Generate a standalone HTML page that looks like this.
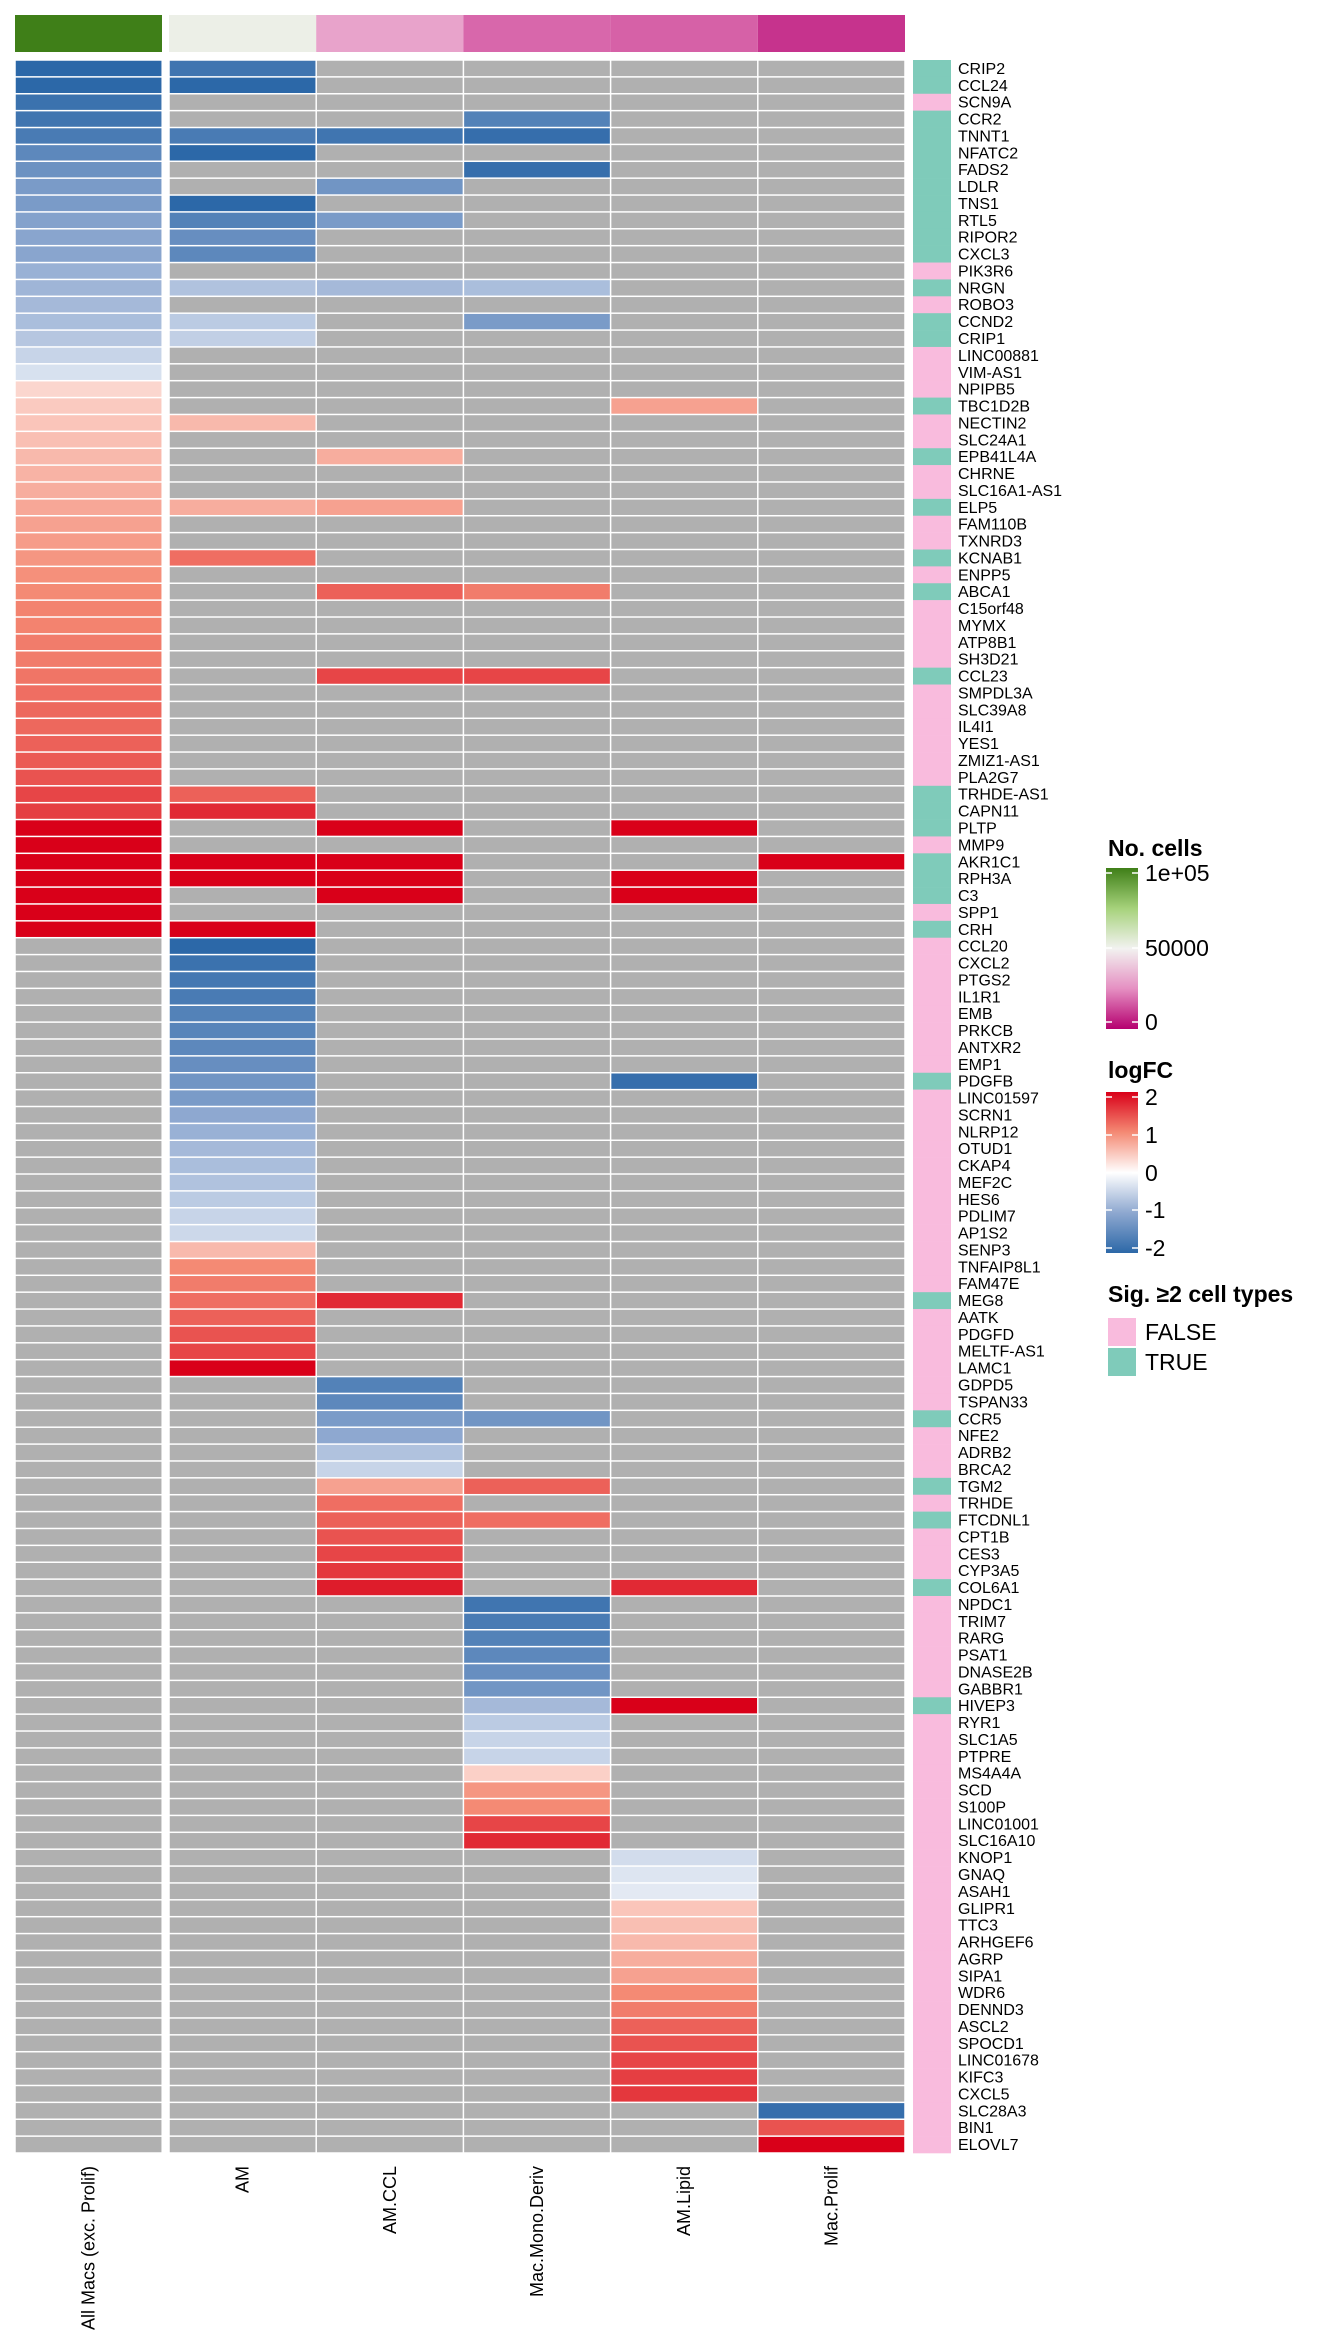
<!DOCTYPE html>
<html><head><meta charset="utf-8"><style>
body{margin:0;background:#fff;}
svg{display:block;font-family:"Liberation Sans",sans-serif;}
</style></head><body>
<svg id="chart" width="1344" height="2352" viewBox="0 0 1344 2352" xmlns="http://www.w3.org/2000/svg"></svg>
<script>
const genes=["CRIP2","CCL24","SCN9A","CCR2","TNNT1","NFATC2","FADS2","LDLR","TNS1","RTL5","RIPOR2","CXCL3","PIK3R6","NRGN","ROBO3","CCND2","CRIP1","LINC00881","VIM-AS1","NPIPB5","TBC1D2B","NECTIN2","SLC24A1","EPB41L4A","CHRNE","SLC16A1-AS1","ELP5","FAM110B","TXNRD3","KCNAB1","ENPP5","ABCA1","C15orf48","MYMX","ATP8B1","SH3D21","CCL23","SMPDL3A","SLC39A8","IL4I1","YES1","ZMIZ1-AS1","PLA2G7","TRHDE-AS1","CAPN11","PLTP","MMP9","AKR1C1","RPH3A","C3","SPP1","CRH","CCL20","CXCL2","PTGS2","IL1R1","EMB","PRKCB","ANTXR2","EMP1","PDGFB","LINC01597","SCRN1","NLRP12","OTUD1","CKAP4","MEF2C","HES6","PDLIM7","AP1S2","SENP3","TNFAIP8L1","FAM47E","MEG8","AATK","PDGFD","MELTF-AS1","LAMC1","GDPD5","TSPAN33","CCR5","NFE2","ADRB2","BRCA2","TGM2","TRHDE","FTCDNL1","CPT1B","CES3","CYP3A5","COL6A1","NPDC1","TRIM7","RARG","PSAT1","DNASE2B","GABBR1","HIVEP3","RYR1","SLC1A5","PTPRE","MS4A4A","SCD","S100P","LINC01001","SLC16A10","KNOP1","GNAQ","ASAH1","GLIPR1","TTC3","ARHGEF6","AGRP","SIPA1","WDR6","DENND3","ASCL2","SPOCD1","LINC01678","KIFC3","CXCL5","SLC28A3","BIN1","ELOVL7"];
const cellTypes=["All Macs (exc. Prolif)","AM","AM.CCL","Mac.Mono.Deriv","AM.Lipid","Mac.Prolif"];
const nCells=[100000,52000,30000,18000,17000,9000];
const allMacs={1:-2,2:-2,3:-1.85,4:-1.8,5:-1.7,6:-1.5,7:-1.35,8:-1.2,9:-1.2,10:-1.1,11:-1.05,12:-1.05,13:-0.9,14:-0.85,15:-0.8,16:-0.75,17:-0.65,18:-0.5,19:-0.35,20:0.35,21:0.45,22:0.5,23:0.55,24:0.6,25:0.65,26:0.7,27:0.75,28:0.8,29:0.85,30:0.9,31:0.95,32:1.0,33:1.05,34:1.05,35:1.1,36:1.1,37:1.15,38:1.2,39:1.25,40:1.25,41:1.3,42:1.35,43:1.4,44:1.5,45:1.55,46:2,47:2,48:2,49:2,50:2,51:2,52:2};
const am={1:-1.8,2:-2,5:-1.7,6:-2,9:-2,10:-1.6,11:-1.4,12:-1.5,14:-0.7,16:-0.6,17:-0.55,22:0.6,27:0.7,30:1.2,44:1.3,45:1.7,48:2,49:2,52:2,53:-2,54:-1.85,55:-1.75,56:-1.7,57:-1.6,58:-1.55,59:-1.5,60:-1.4,61:-1.3,62:-1.2,63:-1.0,64:-0.9,65:-0.8,66:-0.75,67:-0.7,68:-0.6,69:-0.5,70:-0.45,71:0.6,72:1.0,73:1.1,74:1.2,75:1.3,76:1.4,77:1.5,78:2};
const amCCL={5:-1.8,8:-1.3,10:-1.2,14:-0.8,24:0.7,27:0.8,32:1.3,37:1.5,46:2,48:2,49:2,50:2,74:1.7,79:-1.6,80:-1.5,81:-1.2,82:-1.0,83:-0.7,84:-0.5,85:0.8,86:1.2,87:1.3,88:1.4,89:1.5,90:1.6,91:1.8};
const monoDeriv={4:-1.6,5:-1.9,7:-1.9,14:-0.75,16:-1.2,32:1.1,37:1.5,81:-1.3,85:1.3,87:1.2,92:-1.8,93:-1.7,94:-1.6,95:-1.5,96:-1.4,97:-1.3,98:-0.8,99:-0.6,100:-0.5,101:-0.5,102:0.4,103:0.9,104:1.0,105:1.5,106:1.7};
const amLipid={21:0.8,46:2,49:2,50:2,61:-1.9,91:1.7,98:2,107:-0.4,108:-0.3,109:-0.25,110:0.5,111:0.55,112:0.6,113:0.7,114:0.8,115:1.0,116:1.1,117:1.3,118:1.4,119:1.5,120:1.55,121:1.6};
const macProlif={48:2,122:-1.9,123:1.4,124:2};
const sigTrue=[1,2,4,5,6,7,8,9,10,11,12,14,16,17,21,24,27,30,32,37,44,45,46,48,49,50,52,61,74,81,85,87,91,98];
const colData=[allMacs,am,amCCL,monoDeriv,amLipid,macProlif];

const svg=document.getElementById('chart');
const NS='http://www.w3.org/2000/svg';
function mk(t,a,txt){const e=document.createElementNS(NS,t);for(const k in a)e.setAttribute(k,a[k]);if(txt!==undefined)e.textContent=txt;svg.appendChild(e);return e;}
function hex(h){return [parseInt(h.slice(1,3),16),parseInt(h.slice(3,5),16),parseInt(h.slice(5,7),16)];}
function ramp(stops,v){
  if(v<=stops[0][0])return stops[0][1];
  for(let i=1;i<stops.length;i++){if(v<=stops[i][0]){const a=stops[i-1],b=stops[i];const t=(v-a[0])/(b[0]-a[0]);const c1=hex(a[1]),c2=hex(b[1]);return 'rgb('+c1.map((c,j)=>Math.round(c+(c2[j]-c)*t)).join(',')+')';}}
  return stops[stops.length-1][1];}
const fcStops=[[-2,'#2C68A8'],[-1,'#8EA8D0'],[0,'#FFFFFF'],[1,'#F48A74'],[2,'#D90019']];
const ncStops=[[0,'#B5006F'],[25000,'#E58FC2'],[50000,'#F2F2F0'],[75000,'#A6D27B'],[100000,'#3F7F18']];

const rowTop=60,rowH=2093/genes.length;
const colX=[15,169,316.2,463.4,610.6,757.8],colW=147.2;
function yScale(i){return rowTop+i*rowH;}

cellTypes.forEach((ct,j)=>{
  const r=mk('rect',{x:colX[j],y:15,width:j==0?147:colW,height:37,fill:ramp(ncStops,nCells[j])});
  
  
});
colData.forEach((col,j)=>{
  genes.forEach((g,i)=>{
    const v=col[i+1];
    const r=mk('rect',{x:colX[j]+0.75,y:yScale(i)+0.75,width:colW-1.5,height:rowH-1.5,fill:v===undefined?'#B0B0B0':ramp(fcStops,v)});
    
    
  });
});
genes.forEach((g,i)=>{
  const r=mk('rect',{x:913,y:yScale(i),width:38,height:rowH+0.3,fill:sigTrue.includes(i+1)?'#7FCBBA':'#F9BBDD'});
  
  
  const t=mk('text',{x:958,y:yScale(i)+rowH/2+5.5,'font-size':16,fill:'#000'},g);
  
  
});
cellTypes.forEach((ct,j)=>{
  const cx=colX[j]+colW/2+6;
  const t=mk('text',{x:cx,y:2166,'font-size':18,'text-anchor':'end',transform:'rotate(-90 '+cx+' 2166)'},ct);
  
  
});
function lg(name,el){}
lg('ncells-legend-title',mk('text',{x:1108,y:856,'font-size':23,'font-weight':'bold'},'No. cells'));
const defs=document.createElementNS(NS,'defs');svg.appendChild(defs);
defs.innerHTML='<linearGradient id="gnc" x1="0" y1="0" x2="0" y2="1"><stop offset="0" stop-color="#3F7F18"/><stop offset="0.25" stop-color="#A6D27B"/><stop offset="0.5" stop-color="#F2F2F0"/><stop offset="0.75" stop-color="#E58FC2"/><stop offset="1" stop-color="#B5006F"/></linearGradient><linearGradient id="gfc" x1="0" y1="0" x2="0" y2="1"><stop offset="0" stop-color="#D90019"/><stop offset="0.25" stop-color="#F48A74"/><stop offset="0.5" stop-color="#FFFFFF"/><stop offset="0.75" stop-color="#8EA8D0"/><stop offset="1" stop-color="#2C68A8"/></linearGradient>';
lg('ncells-colorbar',mk('rect',{x:1106,y:868,width:32,height:161,fill:'url(#gnc)'}));
const ncTicks=['1e+05','50000','0'],ncTickY=[873,948,1022];
ncTicks.forEach((t,k)=>{
  mk('line',{x1:1106,x2:1112,y1:ncTickY[k],y2:ncTickY[k],stroke:'#fff','stroke-width':1.5});
  mk('line',{x1:1132,x2:1138,y1:ncTickY[k],y2:ncTickY[k],stroke:'#fff','stroke-width':1.5});
  lg('ncells-tick-'+k,mk('text',{x:1145,y:ncTickY[k]+8,'font-size':23},t));
});
lg('logfc-legend-title',mk('text',{x:1108,y:1078,'font-size':23,'font-weight':'bold'},'logFC'));
lg('logfc-colorbar',mk('rect',{x:1106,y:1092,width:32,height:161,fill:'url(#gfc)'}));
const fcTicks=['2','1','0','-1','-2'],fcTickY=[1097,1135,1173,1210,1248];
fcTicks.forEach((t,k)=>{
  mk('line',{x1:1106,x2:1112,y1:fcTickY[k],y2:fcTickY[k],stroke:'#fff','stroke-width':1.5});
  mk('line',{x1:1132,x2:1138,y1:fcTickY[k],y2:fcTickY[k],stroke:'#fff','stroke-width':1.5});
  lg('logfc-tick-'+k,mk('text',{x:1145,y:fcTickY[k]+8,'font-size':23},t));
});
lg('sig-legend-title',mk('text',{x:1108,y:1302,'font-size':23,'font-weight':'bold'},'Sig. ≥2 cell types'));
lg('sig-legend-false-swatch',mk('rect',{x:1108,y:1318,width:28,height:28,fill:'#F9BBDD'}));
lg('sig-legend-true-swatch',mk('rect',{x:1108,y:1348,width:28,height:28,fill:'#7FCBBA'}));
lg('sig-legend-false-label',mk('text',{x:1145,y:1340,'font-size':23},'FALSE'));
lg('sig-legend-true-label',mk('text',{x:1145,y:1370,'font-size':23},'TRUE'));
</script>
</body></html>
